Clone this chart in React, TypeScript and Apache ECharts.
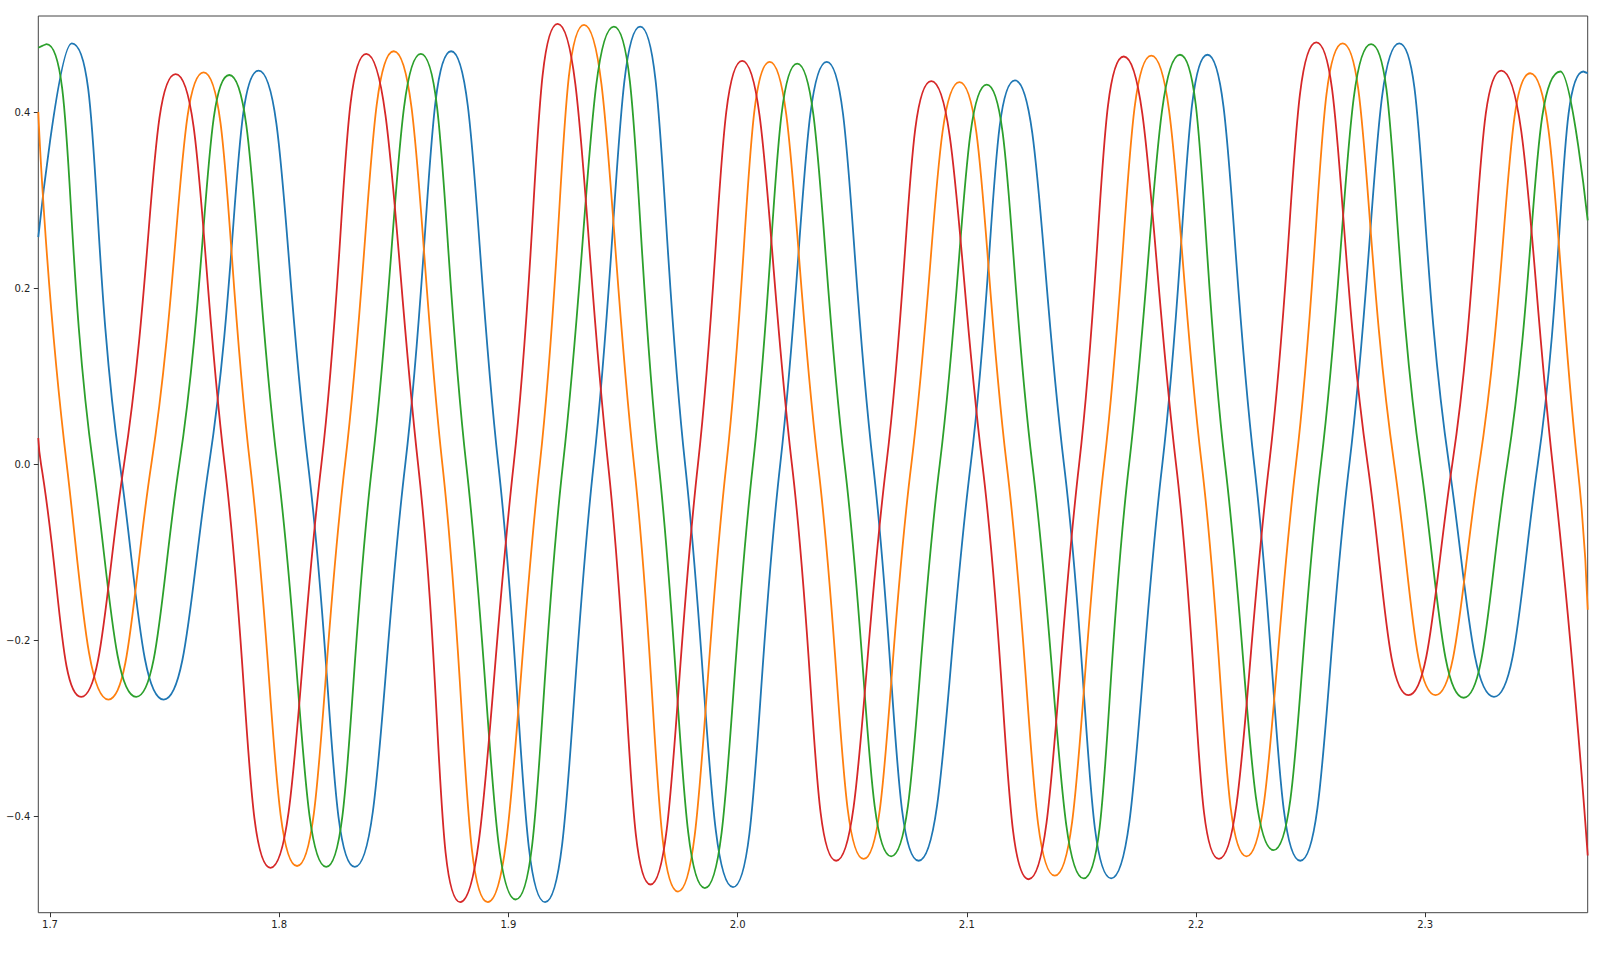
import React, { useEffect, useRef } from "react";
import * as echarts from "echarts";

// axis ticks and visible range
const xTicks = [1.7, 1.8, 1.9, 2.0, 2.1, 2.2, 2.3];
const yTicks = [-0.4, -0.2, 0.0, 0.2, 0.4];
const xRange = [1.6949, 2.3709];
const yRange = [-0.509, 0.509];

// [x, y] points: edges, peaks, troughs and zero crossings of each trace
const blue = [
    [1.6949, 0.258], [1.7095, 0.478], [1.7305, 0], [1.7496, -0.267], [1.7694, 0],
    [1.791, 0.447], [1.8126, 0], [1.833, -0.457], [1.855, 0], [1.875, 0.469],
    [1.8956, 0], [1.916, -0.497], [1.9372, 0], [1.9575, 0.497], [1.9771, 0],
    [1.998, -0.48], [2.0186, 0], [2.0389, 0.457], [2.0591, 0], [2.079, -0.45],
    [2.1017, 0], [2.121, 0.436], [2.1424, 0], [2.163, -0.47], [2.1853, 0],
    [2.205, 0.465], [2.2254, 0], [2.2455, -0.45], [2.2669, 0], [2.2887, 0.478],
    [2.3104, 0], [2.33, -0.264], [2.3491, 0], [2.369, 0.446], [2.3709, 0.444],
];

const orange = [
    [1.6949, 0.4], [1.7073, 0], [1.7255, -0.267], [1.7442, 0], [1.767, 0.445],
    [1.7873, 0], [1.8078, -0.456], [1.8287, 0], [1.85, 0.469], [1.8712, 0],
    [1.891, -0.497], [1.9137, 0], [1.933, 0.499], [1.9548, 0], [1.974, -0.485],
    [1.9951, 0], [2.014, 0.457], [2.0351, 0], [2.055, -0.448], [2.0758, 0],
    [2.0968, 0.434], [2.1174, 0], [2.1384, -0.467], [2.1599, 0], [2.1805, 0.464],
    [2.2025, 0], [2.222, -0.445], [2.2436, 0], [2.264, 0.478], [2.2865, 0],
    [2.3045, -0.262], [2.3236, 0], [2.3458, 0.444], [2.3664, 0], [2.3709, -0.165],
];

const green = [
    [1.6949, 0.473], [1.6985, 0.477], [1.7188, 0], [1.7376, -0.264], [1.7564, 0],
    [1.7782, 0.442], [1.7992, 0], [1.8205, -0.457], [1.8406, 0], [1.8618, 0.466],
    [1.8816, 0], [1.9032, -0.494], [1.9238, 0], [1.946, 0.497], [1.9656, 0],
    [1.9857, -0.481], [2.0067, 0], [2.026, 0.455], [2.0467, 0], [2.067, -0.445],
    [2.0882, 0], [2.1087, 0.431], [2.1286, 0], [2.151, -0.47], [2.1708, 0],
    [2.193, 0.465], [2.2127, 0], [2.2338, -0.438], [2.2545, 0], [2.2764, 0.477],
    [2.298, 0], [2.3168, -0.265], [2.3358, 0], [2.359, 0.446], [2.3709, 0.277],
];

const red = [
    [1.6949, 0.03], [1.6961, 0], [1.7136, -0.264], [1.7323, 0], [1.7548, 0.443],
    [1.7762, 0], [1.7962, -0.458], [1.8184, 0], [1.838, 0.466], [1.8606, 0],
    [1.879, -0.497], [1.9023, 0], [1.9215, 0.5], [1.9435, 0], [1.962, -0.477],
    [1.9827, 0], [2.002, 0.458], [2.0237, 0], [2.043, -0.45], [2.0649, 0],
    [2.0845, 0.435], [2.1068, 0], [2.127, -0.471], [2.149, 0], [2.1685, 0.463],
    [2.1913, 0], [2.21, -0.448], [2.2319, 0], [2.2525, 0.479], [2.2749, 0],
    [2.2927, -0.262], [2.3118, 0], [2.3332, 0.447], [2.3556, 0], [2.3709, -0.444],
];

const traces = [
    { name: "C0", color: "#1f77b4", data: blue },
    { name: "C1", color: "#ff7f0e", data: orange },
    { name: "C2", color: "#2ca02c", data: green },
    { name: "C3", color: "#d62728", data: red },
];

const labelStyle = {
    fontFamily: "DejaVu Sans",
    fontSize: 10,
    color: "#222",
};

const App = () => {
    const chartRef = useRef<HTMLDivElement>(null);

    useEffect(() => {
        if (!chartRef.current) return;
        const chart = echarts.init(chartRef.current, null, { renderer: "svg" });

        chart.setOption({
            animation: false,
            backgroundColor: "#fff",
            grid: {
                left: 38.3,
                right: 18.3,
                top: 16,
                bottom: 40.3,
                show: true,
                borderColor: "#444",
                borderWidth: 1,
            },
            xAxis: {
                type: "value",
                min: xRange[0],
                max: xRange[1],
                axisLine: { show: false, onZero: false },
                splitLine: { show: false },
                axisTick: {
                    show: true,
                    length: 4.5,
                    customValues: xTicks,
                    lineStyle: { color: "#333", width: 1 },
                },
                axisLabel: {
                    ...labelStyle,
                    margin: 7,
                    customValues: xTicks,
                    formatter: (v: number) => v.toFixed(1),
                },
            },
            yAxis: {
                type: "value",
                min: yRange[0],
                max: yRange[1],
                axisLine: { show: false, onZero: false },
                splitLine: { show: false },
                axisTick: {
                    show: true,
                    length: 4.5,
                    customValues: yTicks,
                    lineStyle: { color: "#333", width: 1 },
                },
                axisLabel: {
                    ...labelStyle,
                    margin: 8,
                    customValues: yTicks,
                    formatter: (v: number) => v.toFixed(1).replace("-", "\u2212"),
                },
            },
            series: traces.map((t) => ({
                name: t.name,
                type: "line",
                data: t.data,
                symbol: "none",
                smooth: 0.5,
                clip: true,
                lineStyle: { color: t.color, width: 1.8 },
                itemStyle: { color: t.color },
            })),
        });

        return () => {
            chart.dispose();
        };
    }, []);

    return (
        <div
            ref={chartRef}
            style={{ position: "fixed", left: 0, top: 0, width: "1606px", height: "953px" }}
        />
    );
};

export default App;
